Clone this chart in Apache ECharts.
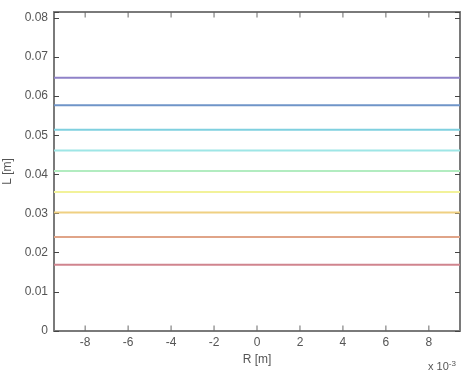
<!DOCTYPE html>
<html><head><meta charset="utf-8">
<script src="https://cdn.jsdelivr.net/npm/echarts@6/dist/echarts.min.js"></script>
<style>html,body{margin:0;padding:0;background:#fff}#c{width:470px;height:379px}</style>
</head><body><div id="c"></div>
<script>
const xRange = [-9.45, 9.45];          // R, in units of 1e-3 m
const levels = [0.0647, 0.0577, 0.0514, 0.0461, 0.0409, 0.0355, 0.0303, 0.0240, 0.0169];
const colors = ['#8f82c8', '#6f95c8', '#7fd0df', '#9ee6e6', '#b2ecc0', '#f2f29a', '#efd082', '#e0a488', '#d0848e'];
const xTicks = [-8, -6, -4, -2, 0, 2, 4, 6, 8];
const yTicks = [0, 0.01, 0.02, 0.03, 0.04, 0.05, 0.06, 0.07, 0.08];
const yMax = 0.0815;

const chart = echarts.init(document.getElementById('c'));
const font = 'Liberation Sans, Arial, sans-serif';
const axisLineStyle = {color: '#7a7a7a', width: 2};
const tickStyle = {color: '#444', width: 1};
const series = levels.map((v, i) => ({
  type: 'line', xAxisIndex: 0, yAxisIndex: 0, showSymbol: false, silent: true,
  data: [[xRange[0], v], [xRange[1], v]],
  lineStyle: {color: colors[i], width: 2}
}));
// inward tick marks on bottom and top frame at the x tick values
series.push({
  type: 'scatter', silent: true, clip: false, symbol: 'rect', symbolSize: [1, 5],
  symbolOffset: [0, -3], itemStyle: {color: '#444'},
  data: xTicks.map(t => [t, 0])
});
series.push({
  type: 'scatter', silent: true, clip: false, symbol: 'rect', symbolSize: [1, 5],
  symbolOffset: [0, 3], itemStyle: {color: '#444'},
  data: xTicks.map(t => [t, yMax])
});
chart.setOption({
  animation: false,
  grid: {left: 54, right: 10, top: 12, bottom: 48, outerBoundsMode: 'none', containLabel: false},
  xAxis: [{
    type: 'value', min: xRange[0], max: xRange[1], position: 'bottom',
    name: 'R [m]', nameLocation: 'middle', nameGap: 22,
    nameTextStyle: {color: '#555', fontSize: 12, fontFamily: font},
    axisLine: {onZero: false, lineStyle: axisLineStyle},
    axisTick: {show: false},
    axisLabel: {customValues: xTicks, color: '#555', fontSize: 12, fontFamily: font, margin: 6},
    splitLine: {show: false}
  }, {
    type: 'value', min: xRange[0], max: xRange[1], position: 'top',
    axisLine: {onZero: false, lineStyle: axisLineStyle},
    axisTick: {show: false},
    axisLabel: {show: false}, splitLine: {show: false}
  }],
  yAxis: [{
    type: 'value', min: 0, max: yMax, interval: 0.01, position: 'left',
    name: 'L [m]', nameLocation: 'middle', nameGap: 38,
    nameTextStyle: {color: '#555', fontSize: 12, fontFamily: font},
    axisLine: {show: true, onZero: false, lineStyle: axisLineStyle},
    axisTick: {show: true, inside: true, length: 5, lineStyle: tickStyle},
    axisLabel: {customValues: yTicks, color: '#555', fontSize: 12, fontFamily: font, margin: 6,
      formatter: v => v === 0 ? '0' : v.toFixed(2)},
    splitLine: {show: false}
  }, {
    type: 'value', min: 0, max: yMax, interval: 0.01, position: 'right',
    axisLine: {show: true, onZero: false, lineStyle: axisLineStyle},
    axisTick: {show: true, inside: true, length: 5, lineStyle: tickStyle},
    axisLabel: {show: false}, splitLine: {show: false}
  }],
  graphic: [{
    type: 'text', left: 428, top: 360,
    style: {
      text: 'x 10{s|-3}', fill: '#555', font: '11px ' + font,
      rich: {s: {fontSize: 8, verticalAlign: 'top', padding: [0, 0, 6, 0], fill: '#555'}}
    }
  }],
  series: series
});
</script></body></html>
